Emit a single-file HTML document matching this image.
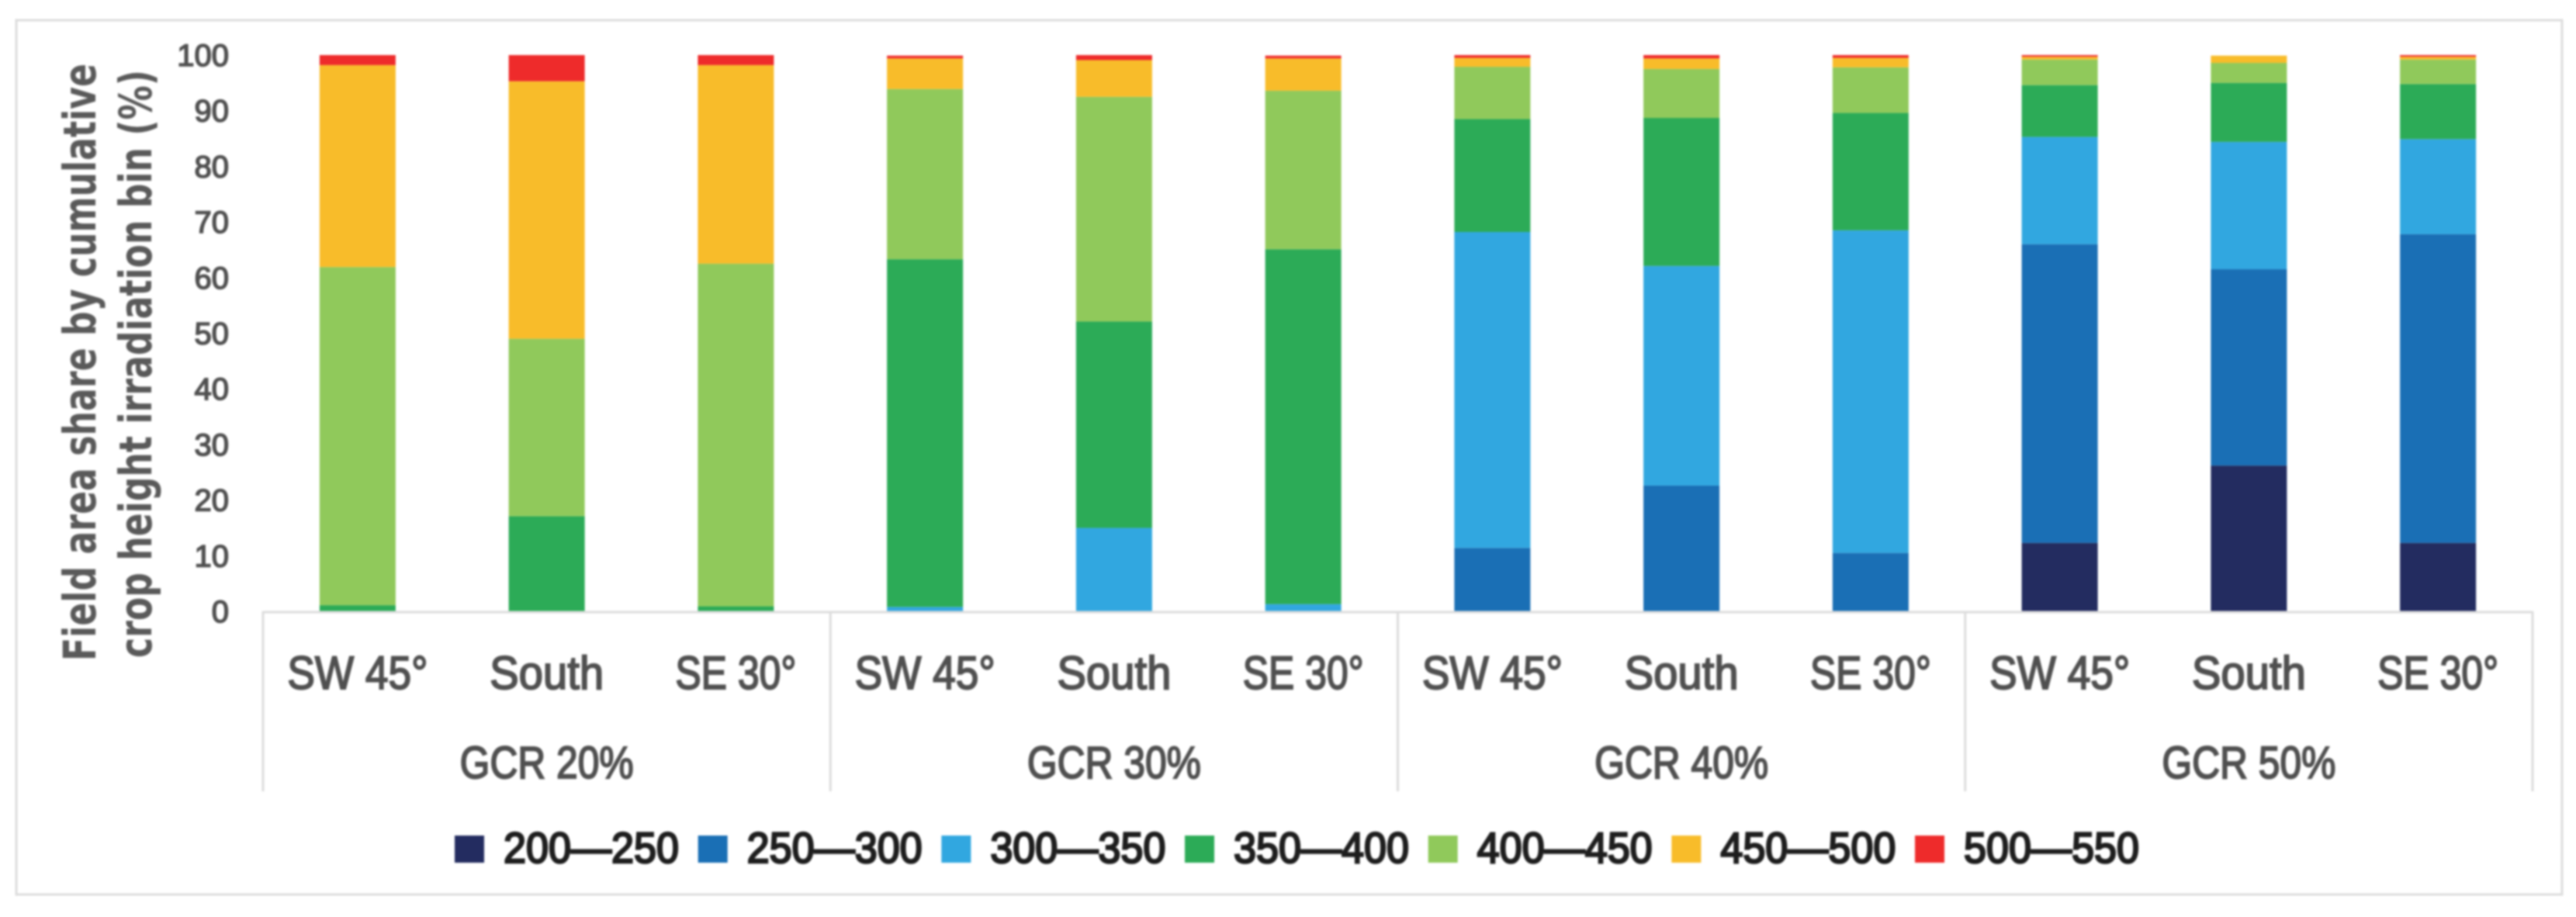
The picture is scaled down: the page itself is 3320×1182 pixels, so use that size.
<!DOCTYPE html>
<html lang="en">
<head>
<meta charset="utf-8">
<title>Field area share by irradiation bin</title>
<style>
html,body{margin:0;padding:0;background:#fff;width:3320px;height:1182px;overflow:hidden}
svg{display:block;filter:blur(1.2px)}
text{font-family:"Liberation Sans",sans-serif}
</style>
</head>
<body>
<svg id="chart" xmlns="http://www.w3.org/2000/svg" width="3320" height="1182" viewBox="0 0 3320 1182">
  <rect x="21" y="26" width="3281" height="1127" fill="#fff" stroke="#dcdcdc" stroke-width="3"/>
  <g id="bars"></g>
  <g id="axis"></g>
  <g id="yticks"></g>
  <g id="legend"></g>
  <text transform="translate(123,852) rotate(-90)" style="font-family:'DejaVu Sans',sans-serif" font-size="58" font-weight="700" fill="#5a5a5a" textLength="770" lengthAdjust="spacingAndGlyphs">Field area share by cumulative</text>
  <text transform="translate(195,848) rotate(-90)" style="font-family:'DejaVu Sans',sans-serif" font-size="58" font-weight="700" fill="#5a5a5a" textLength="758" lengthAdjust="spacingAndGlyphs">crop height irradiation bin (%)</text>
</svg>
<script>
const groups = ['GCR 20%', 'GCR 30%', 'GCR 40%', 'GCR 50%'];
const orientations = ['SW 45°', 'South', 'SE 30°'];
const yTicks = [0, 10, 20, 30, 40, 50, 60, 70, 80, 90, 100];
const bins = ['200—250', '250—300', '300—350', '350—400', '400—450', '450—500', '500—550'];
const binColors = ['#232c60', '#1a6fb5', '#31a7e0', '#2cab57', '#90c95b', '#f8bc2a', '#ee2b2b'];
const bin200 = [0, 0, 0, 0, 0, 0, 0, 0, 0, 12.3, 26.2, 12.3];
const bin250 = [0, 0, 0, 0, 0, 0, 11.4, 22.6, 10.5, 53.7, 35.3, 55.5];
const bin300 = [0, 0, 0, 0.8, 15, 1.3, 56.8, 39.5, 58, 19.3, 22.9, 17.1];
const bin350 = [1.1, 17.1, 0.9, 62.5, 37.1, 63.8, 20.3, 26.6, 21.1, 9.3, 10.6, 9.9];
const bin400 = [60.8, 31.9, 61.6, 30.6, 40.4, 28.5, 9.4, 8.8, 8.2, 4.6, 3.6, 4.4];
const bin450 = [36.3, 46.3, 35.7, 5.5, 6.6, 5.8, 1.6, 1.9, 1.7, 0.5, 1.3, 0.5];
const bin500 = [1.8, 4.7, 1.8, 0.5, 0.9, 0.5, 0.5, 0.6, 0.5, 0.3, 0, 0.3];
const seriesValues = [bin200, bin250, bin300, bin350, bin400, bin450, bin500];

const NS = 'http://www.w3.org/2000/svg';
const plotLeft = 339, groupW = 731.25, barW = 98;
const baseY = 788, topY = 71;
const catW = groupW / orientations.length;
function yScale(v) { return baseY - (baseY - topY) * v / 100; }
function xScale(i) { return plotLeft + catW * (i + 0.5); }
function make(tag, attrs, parent) {
  const el = document.createElementNS(NS, tag);
  for (const k in attrs) el.setAttribute(k, attrs[k]);
  parent.appendChild(el);
  return el;
}
const orientationTextWidth = { 'SW 45°': 181, 'South': 147, 'SE 30°': 156 };

const barsG = document.getElementById('bars');
for (let b = 0; b < orientations.length * groups.length; b++) {
  let cum = 0;
  seriesValues.forEach((vals, s) => {
    const v = vals[b];
    if (v <= 0) return;
    const r = make('rect', { x: xScale(b) - barW / 2, y: yScale(cum + v), width: barW, height: yScale(cum) - yScale(cum + v), fill: binColors[s] }, barsG);
    
    
    cum += v;
  });
}

const axisG = document.getElementById('axis');
const axisEnd = plotLeft + groupW * groups.length;
const axisLine = make('line', { x1: plotLeft, x2: axisEnd, y1: baseY + 1, y2: baseY + 1, stroke: '#dcdcdc', 'stroke-width': 3 }, axisG);


for (let g = 0; g <= groups.length; g++) {
  const dx = plotLeft + groupW * g;
  const d = make('line', { x1: dx, x2: dx, y1: baseY, y2: 1020, stroke: '#dcdcdc', 'stroke-width': 3 }, axisG);
  
  
}
groups.forEach((name, g) => {
  const t = make('text', { x: plotLeft + groupW * (g + 0.5), y: 1003, 'text-anchor': 'middle', 'font-size': 58, fill: '#505050', stroke: '#505050', 'stroke-width': 2, textLength: 224, lengthAdjust: 'spacingAndGlyphs' }, axisG);
  t.textContent = name;
  
  
  orientations.forEach((o, j) => {
    const c = make('text', { x: xScale(g * orientations.length + j), y: 888, 'text-anchor': 'middle', 'font-size': 60, fill: '#505050', stroke: '#505050', 'stroke-width': 2, textLength: orientationTextWidth[o], lengthAdjust: 'spacingAndGlyphs' }, axisG);
    c.textContent = o;
    
    
  });
});

const tickG = document.getElementById('yticks');
yTicks.forEach(v => {
  const t = make('text', { x: 295, y: yScale(v) + 14, 'text-anchor': 'end', 'font-size': 40, fill: '#505050', stroke: '#505050', 'stroke-width': 1.6 }, tickG);
  t.textContent = v;
  
  
});

const legendG = document.getElementById('legend');
bins.forEach((name, i) => {
  const lx = 586 + 313.67 * i;
  const sw = make('rect', { x: lx, y: 1077, width: 38, height: 35, fill: binColors[i] }, legendG);
  
  
  const t = make('text', { x: lx + 63, y: 1112, 'font-size': 56, fill: '#1e1e1e', stroke: '#1e1e1e', 'stroke-width': 2.6, textLength: 226, lengthAdjust: 'spacingAndGlyphs' }, legendG);
  t.textContent = name;
  
  
});
</script>
</body>
</html>
